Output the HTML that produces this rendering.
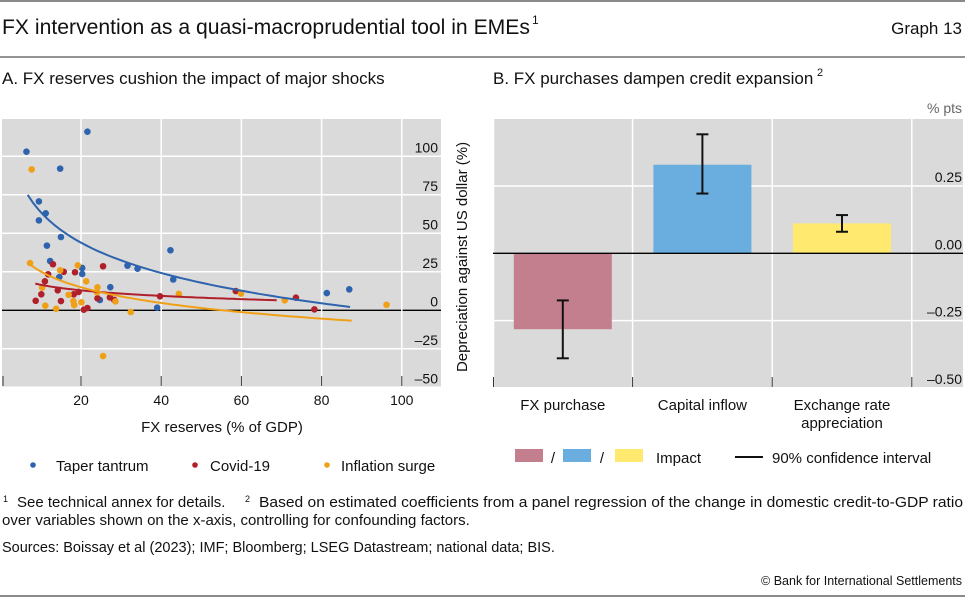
<!DOCTYPE html>
<html><head><meta charset="utf-8"><style>
body{margin:0;background:#fff}
svg{display:block;font-family:"Liberation Sans",sans-serif}
</style></head><body>
<svg id="c" width="965" height="598" viewBox="0 0 965 598" xmlns="http://www.w3.org/2000/svg">
<line x1="0" y1="1" x2="965" y2="1" stroke="#444" stroke-width="1.2"/>
<text x="2" y="34" font-size="21" fill="#111" textLength="528" lengthAdjust="spacingAndGlyphs">FX intervention as a quasi-macroprudential tool in EMEs</text>
<text x="532" y="24" font-size="12" fill="#111">1</text>
<text x="962" y="34" font-size="17" fill="#111" text-anchor="end">Graph 13</text>
<line x1="0" y1="57" x2="965" y2="57" stroke="#555" stroke-width="1.2"/>
<text x="2" y="84" font-size="17" fill="#111">A. FX reserves cushion the impact of major shocks</text>
<text x="493" y="84" font-size="17" fill="#111">B. FX purchases dampen credit expansion</text>
<text x="817" y="76" font-size="11" fill="#111">2</text>
<g id="pa"></g>
<g id="pb"></g>
<text x="3" y="502" font-size="9" fill="#111">1</text>
<text x="17" y="507" font-size="15" fill="#111">See technical annex for details.</text>
<text x="245" y="502" font-size="9" fill="#111">2</text>
<text x="259" y="507" font-size="15" fill="#111" textLength="704" lengthAdjust="spacingAndGlyphs">Based on estimated coefficients from a panel regression of the change in domestic credit-to-GDP ratio</text>
<text x="2" y="525" font-size="15" fill="#111">over variables shown on the x-axis, controlling for confounding factors.</text>
<text x="2" y="552" font-size="14.5" fill="#111">Sources: Boissay et al (2023); IMF; Bloomberg; LSEG Datastream; national data; BIS.</text>
<text x="962" y="585" font-size="12.5" fill="#111" text-anchor="end">© Bank for International Settlements</text>
<line x1="0" y1="596" x2="965" y2="596" stroke="#444" stroke-width="1.2"/>
</svg>
<script>
const NS="http://www.w3.org/2000/svg";
// Panel A data
const taperX=[6.4,21.6,14.8,9.5,11.2,9.5,15,11.5,12.3,14.6,20.3,20.3,24.7,27.3,31.6,34.1,42.3,43,39,81.3,86.9];
const taperY=[103,116,92,70.7,63,58.4,47.6,42,32,21.6,27.5,23.6,6.7,15,29,27,39,20,1.7,11.2,13.6];
const covidX=[8.7,10.1,11,11.8,13,14.2,15,15.7,18.5,18.2,19.4,20.7,21.6,25.5,24.1,27.2,28.3,39.7,58.6,73.6,78.2];
const covidY=[6.2,10.4,18.8,23.4,29.9,13,6,25,24.7,10.4,11.9,0.4,1.5,28.6,7.8,8.4,6.7,9.1,12.5,8.2,0.6];
const inflX=[7.7,7.3,10.3,11.1,13.8,14.8,16.9,18.1,18.3,19.2,20.1,21.3,24.1,24,28.6,32.4,25.5,44.4,59.9,70.8,96.2];
const inflY=[91.5,30.7,14.7,3,1,26,10.1,6,3.4,29.2,5.2,18.8,14.9,11.7,5.8,-1.1,-29.7,10.6,10.8,6.5,3.6];
// trend fits y = a + b*ln(x) over [x0,x1]
const trendA=[129,28.5,59];
const trendB=[-28.4,-5.19,-14.7];
const trendRange=[[6.7,87.1],[8.6,68.8],[7,87.5]];
const xTicksA=[20,40,60,80,100];
const yTicksA=[100,75,50,25,0,-25,-50];
const yTickLabA=["100","75","50","25","0","–25","–50"];
// Panel B data
const catsB=["FX purchase","Capital inflow","Exchange rate appreciation"];
const valsB=[-0.282,0.329,0.111];
const ciLow=[-0.39,0.222,0.08];
const ciHigh=[-0.175,0.442,0.142];
const yTicksB=[0.25,0,-0.25,-0.5];
const yTickLabB=["0.25","0.00","–0.25","–0.50"];

function el(p,t,a){const e=document.createElementNS(NS,t);for(const k in a)e.setAttribute(k,a[k]);p.appendChild(e);return e;}
const pa=document.getElementById('pa'),pb=document.getElementById('pb');
const ax=v=>0.8+v*4.01, ay=v=>310.3-v*1.54;
el(pa,'rect',{x:2,y:119,width:439,height:268,fill:'#dadada'});
yTicksA.forEach((v,i)=>{
 const g=el(pa,'line',{x1:2,x2:441,y1:ay(v),y2:ay(v),stroke:v===0?'#000':'#fff','stroke-width':v===0?1.3:1.5});
 
 const t=el(pa,'text',{x:438,y:ay(v)-4,'font-size':14,'text-anchor':'end',fill:'#111'});t.textContent=yTickLabA[i];
 
});
xTicksA.forEach(v=>{
 const g=el(pa,'line',{x1:ax(v),x2:ax(v),y1:119,y2:387,stroke:'#fff','stroke-width':1.5});
 
 const k=el(pa,'line',{x1:ax(v),x2:ax(v),y1:376,y2:386,stroke:'#333','stroke-width':1});
 
 const t=el(pa,'text',{x:ax(v),y:405,'font-size':14,'text-anchor':'middle',fill:'#111'});t.textContent=String(v);
 
});
{const k=el(pa,'line',{x1:3,x2:3,y1:376,y2:386,stroke:'#333'});}
const colsA=['#2e63ad','#b0202a','#f0a017'];
[[taperX,taperY],[covidX,covidY],[inflX,inflY]].forEach((s,si)=>{
 s[0].forEach((x,i)=>{const c=el(pa,'circle',{cx:ax(x),cy:ay(s[1][i]),r:3.3,fill:colsA[si]});
  });
});
trendA.forEach((a,i)=>{
 const [x0,x1]=trendRange[i];let d='';
 for(let k=0;k<=60;k++){const x=x0+(x1-x0)*k/60;const y=a+trendB[i]*Math.log(x);d+=(k?'L':'M')+ax(x).toFixed(1)+','+ay(y).toFixed(1);}
 const p=el(pa,'path',{d:d,fill:'none',stroke:colsA[i],'stroke-width':2});
 
});
{const t=el(pa,'text',{x:222,y:432,'font-size':15,'text-anchor':'middle',fill:'#111'});t.textContent='FX reserves (% of GDP)';
}
[['Taper tantrum',33,56],['Covid-19',195,210],['Inflation surge',327,341]].forEach((L,i)=>{
 const c=el(pa,'circle',{cx:L[1],cy:465,r:2.8,fill:colsA[i]});
 const t=el(pa,'text',{x:L[2],y:471,'font-size':15,fill:'#111'});t.textContent=L[0];
 
});
// Panel B
const by=v=>253.3-v*269.2, bx=i=>493+139.6*i+69.8;
el(pb,'rect',{x:493,y:119,width:470,height:268,fill:'#dadada'});
yTicksB.forEach((v,i)=>{
 if(v!==0){const g=el(pb,'line',{x1:493,x2:963,y1:by(v),y2:by(v),stroke:'#fff','stroke-width':1.5});}
 const t=el(pb,'text',{x:962,y:by(v)-4,'font-size':14,'text-anchor':'end',fill:'#111'});t.textContent=yTickLabB[i];
 
});
[0,1,2,3].forEach(i=>{const x=493+139.6*i+(i?0:0.5);
 const g=el(pb,'line',{x1:x,x2:x,y1:119,y2:387,stroke:'#fff','stroke-width':1.5});
 const k=el(pb,'line',{x1:x,x2:x,y1:377,y2:387,stroke:'#333'});});
const colsB=['#c47f8f','#6aaee0','#ffe96e'];
valsB.forEach((v,i)=>{
 const y0=by(0),y1=by(v);
 const r=el(pb,'rect',{x:bx(i)-49,y:Math.min(y0,y1),width:98,height:Math.abs(y1-y0),fill:colsB[i]});
 
});
{const z=el(pb,'line',{x1:493,x2:963,y1:by(0),y2:by(0),stroke:'#000','stroke-width':1.3});}
valsB.forEach((v,i)=>{
 const g=el(pb,'g',{stroke:'#111','stroke-width':2});
 el(g,'line',{x1:bx(i),x2:bx(i),y1:by(ciLow[i]),y2:by(ciHigh[i])});
 el(g,'line',{x1:bx(i)-6,x2:bx(i)+6,y1:by(ciLow[i]),y2:by(ciLow[i])});
 el(g,'line',{x1:bx(i)-6,x2:bx(i)+6,y1:by(ciHigh[i]),y2:by(ciHigh[i])});
});
catsB.forEach((c,i)=>{
 const lines=i===2?['Exchange rate','appreciation']:[c];
 lines.forEach((s,j)=>{const t=el(pb,'text',{x:bx(i),y:410+j*18,'font-size':15,'text-anchor':'middle',fill:'#111'});t.textContent=s;
  });
});
{const t=el(pb,'text',{x:962,y:113,'font-size':14,'text-anchor':'end',fill:'#666'});t.textContent='% pts';}
{const t=el(pb,'text',{x:0,y:0,'font-size':15,'text-anchor':'middle',fill:'#111',transform:'translate(467,257) rotate(-90)'});t.textContent='Depreciation against US dollar (%)';
}
[515,563,615].forEach((x,i)=>{const r=el(pb,'rect',{x:x,y:449,width:28,height:13,fill:colsB[i]});
 });
[553,602].forEach(x=>{const t=el(pb,'text',{x:x,y:463,'font-size':15,fill:'#111','text-anchor':'middle'});t.textContent='/';});
{const t=el(pb,'text',{x:656,y:463,'font-size':15,fill:'#111'});t.textContent='Impact';}
{const l=el(pb,'line',{x1:735,x2:763,y1:457,y2:457,stroke:'#111','stroke-width':2});}
{const t=el(pb,'text',{x:772,y:463,'font-size':15,fill:'#111'});t.textContent='90% confidence interval';}
</script>
</body></html>
